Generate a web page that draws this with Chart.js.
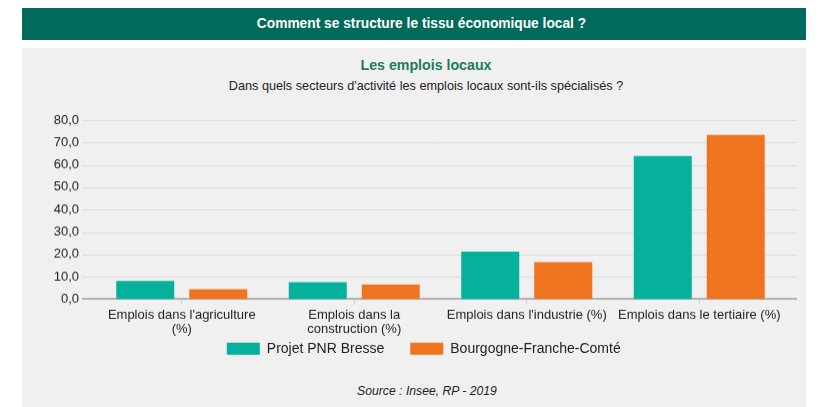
<!DOCTYPE html>
<html><head><meta charset="utf-8">
<script src="https://cdn.jsdelivr.net/npm/chart.js@4"></script>
<style>
body{margin:0;background:#fff;width:820px;height:407px;overflow:hidden;font-family:"Liberation Sans",Arial,sans-serif;position:relative}
#hdr{position:absolute;left:22px;top:8px;width:784px;height:32px;background:#006a5b;color:#fff;font-weight:bold;font-size:13.75px;line-height:32px;text-align:center;padding-left:15px;box-sizing:border-box}
#panel{position:absolute;left:22px;top:48px;width:784px;height:359px;background:#f0f0f0}
.t{position:absolute;left:26px;width:800px;text-align:center;white-space:nowrap;line-height:16px;height:16px}
#title{top:57px;font-size:14.2px;font-weight:bold;color:#237a5c}
#sub{top:78px;font-size:12.7px;color:#222}
#src{top:383px;font-size:12.2px;font-style:italic;color:#222;left:27px}
#wrap{position:absolute;left:0;top:100px;width:820px;height:264.7px}
</style></head><body>
<div id="hdr">Comment se structure le tissu économique local ?</div>
<div id="panel"></div>
<div class="t" id="title">Les emplois locaux</div>
<div class="t" id="sub">Dans quels secteurs d'activité les emplois locaux sont-ils spécialisés ?</div>
<div class="t" id="src">Source : Insee, RP - 2019</div>
<div id="wrap"><canvas id="c"></canvas></div>
<script>
const categories = [
  ["Emplois dans l'agriculture", "(%)"],
  ["Emplois dans la", "construction (%)"],
  "Emplois dans l'industrie (%)",
  "Emplois dans le tertiaire (%)"
];
const seriesNames = ["Projet PNR Bresse", "Bourgogne-Franche-Comté"];
const pnrBresse = [8.1, 7.6, 21.3, 64.0];
const bfc = [4.4, 6.6, 16.5, 73.4];
const yTicks = [0, 10, 20, 30, 40, 50, 60, 70, 80];

const FONT = '"Liberation Sans", Arial, sans-serif';

const gridExt = {
  id: 'gridExt',
  beforeDatasetsDraw(chart) {
    const y = chart.scales.y, ctx = chart.ctx;
    const l = chart.chartArea.left - 13.5, r = chart.chartArea.right + 11.5;
    ctx.save();
    yTicks.forEach(v => {
      const py = Math.round(y.getPixelForValue(v));
      ctx.beginPath();
      if (v === 0) { ctx.strokeStyle = '#b4b4b4'; ctx.lineWidth = 2; ctx.moveTo(l, py); ctx.lineTo(r, py); }
      else { ctx.strokeStyle = '#dcdcdc'; ctx.lineWidth = 1; ctx.moveTo(l, py + 0.5); ctx.lineTo(r, py + 0.5); }
      ctx.stroke();
    });
    ctx.restore();
  }
};

new Chart(document.getElementById('c'), {
  type: 'bar',
  data: {
    labels: categories,
    datasets: [
      { label: seriesNames[0], data: pnrBresse, backgroundColor: '#05b09c' },
      { label: seriesNames[1], data: bfc, backgroundColor: '#ef741f' }
    ]
  },
  options: {
    responsive: true, maintainAspectRatio: false, animation: false,
    devicePixelRatio: 1,
    categoryPercentage: 0.846, barPercentage: 0.795,
    layout: { padding: { left: 62, right: 34.5, top: 20, bottom: 0 } },
    plugins: {
      legend: {
        position: 'bottom',
        labels: { boxWidth: 33, boxHeight: 12, padding: 26, color: '#222',
          font: { family: FONT, size: 14 } }
      },
      tooltip: { enabled: false }
    },
    scales: {
      x: {
        afterFit(scale) { scale.height = 16.3; scale._computeLabelArea = () => undefined; },
        grid: { display: true, offset: false, drawOnChartArea: false, drawTicks: true, tickLength: 5, color: '#d0d0d0' },
        border: { display: false },
        ticks: { color: '#222', padding: 4, maxRotation: 0, autoSkip: false,
          font: { family: FONT, size: 13, lineHeight: 1.1 } }
      },
      y: {
        min: 0, max: 80,
        afterFit(scale) {
          scale.width = 33.5;
          scale.paddingTop = 0; scale.paddingBottom = 0;
          scale._computeLabelArea = () => undefined;
        },
        afterBuildTicks(scale) { scale.ticks = yTicks.map(v => ({ value: v })); },
        grid: { display: false, drawTicks: false },
        border: { display: false },
        ticks: { color: '#222', padding: 16.5,
          font: { family: FONT, size: 13 },
          callback: v => v.toFixed(1).replace('.', ',') }
      }
    }
  },
  plugins: [gridExt]
});
</script>
</body></html>
